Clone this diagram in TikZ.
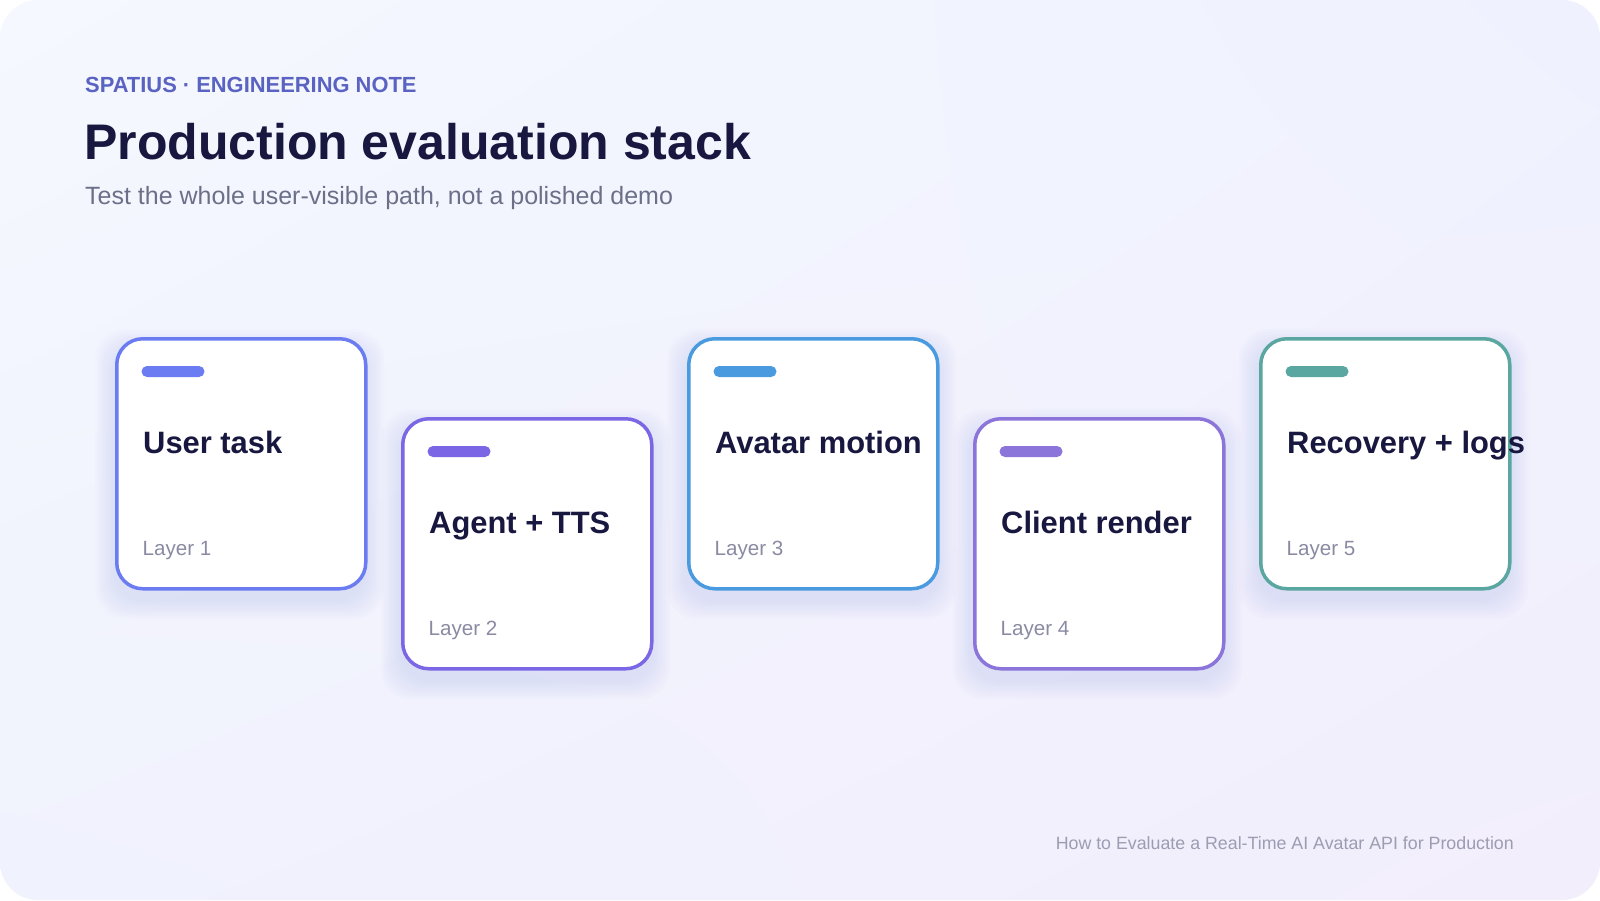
\documentclass[tikz,border=0pt]{standalone}
\usepackage{fontspec}
\setmainfont{Liberation Sans}
\usetikzlibrary{calc}
\usetikzlibrary{shadings}
\usetikzlibrary{positioning}

\definecolor{bgtl}{HTML}{F5F8FE}
\definecolor{bgtr}{HTML}{EFF2FE}
\definecolor{bgbl}{HTML}{F0F2FD}
\definecolor{bgbr}{HTML}{F3EEFC}
\definecolor{ink}{HTML}{17173F}
\definecolor{kickerc}{HTML}{5A62C2}
\definecolor{subc}{HTML}{6B7088}
\definecolor{layerc}{HTML}{8A8BA3}
\definecolor{footc}{HTML}{9C9CB2}
\definecolor{shadowc}{HTML}{8C96E6}
\definecolor{cardA}{HTML}{6B7CF2}
\definecolor{cardB}{HTML}{7B67E6}
\definecolor{cardC}{HTML}{4A9AE0}
\definecolor{cardD}{HTML}{8B74DA}
\definecolor{cardE}{HTML}{5AA6A0}

\tikzset{
  card/.style={draw, line width=3.5pt, fill=white, rounded corners=26pt,
    minimum width=249pt, minimum height=250pt, inner sep=0pt, anchor=north west},
  txt/.style={inner sep=0pt, anchor=base west},
  kicker/.style={txt, text=kickerc, font=\fontsize{21.9}{26}\selectfont\bfseries},
  headline/.style={txt, text=ink, font=\fontsize{50}{60}\selectfont\bfseries},
  subline/.style={txt, text=subc, font=\fontsize{25}{30}\selectfont},
  cardtitle/.style={txt, text=ink, font=\fontsize{30.9}{36}\selectfont\bfseries},
  layer/.style={txt, text=layerc, font=\fontsize{20.6}{25}\selectfont},
  footer/.style={inner sep=0pt, anchor=base east, text=footc, font=\fontsize{17.8}{22}\selectfont}
}

\begin{document}
\begin{tikzpicture}[x=1pt, y=-1pt]
  \useasboundingbox (0,0) rectangle (1600,900);
  \fill[white] (0,0) rectangle (1600,900);
  \shade[rounded corners=38pt, upper left=bgtl, upper right=bgtr, lower left=bgbl, lower right=bgbr]
    (0,0) rectangle (1600,900);

  % header
  \node[kicker] (kick) at (85,92) {SPATIUS · ENGINEERING NOTE};
  \node[headline] (head) at (84,159) {Production evaluation stack};
  \node[subline] (sub) at (85,204) {Test the whole user-visible path, not a polished demo};

  % cards
  \foreach \i/\col/\lift/\name in {1/cardA/0/User task, 2/cardB/80/Agent + TTS,
      3/cardC/0/Avatar motion, 4/cardD/80/Client render, 5/cardE/0/Recovery + logs} {
    \foreach \s in {1,...,8}
      \fill[shadowc, opacity=0.022, rounded corners=30pt]
        ({115+286*(\i-1)-\s*2.5}, {337+\lift+12-\s*2.5}) rectangle ++({249+\s*5},{250+\s*5});
    \node[card, draw=\col] (card\i) at ({115+286*(\i-1)}, {337+\lift}) {};
    \fill[\col, rounded corners=5.5pt] ($(card\i.north west)+(26.5,29)$) rectangle ++(63,11);
    \node[cardtitle] (title\i) at ($(card\i.north west)+(28,116.3)$) {\name};
    \node[layer] (layer\i) at ($(card\i.north west)+(27.4,218.7)$) {Layer \i};
  }

  % footer
  \node[footer] (foot) at (1514,849) {How to Evaluate a Real-Time AI Avatar API for Production};
\end{tikzpicture}
\end{document}
